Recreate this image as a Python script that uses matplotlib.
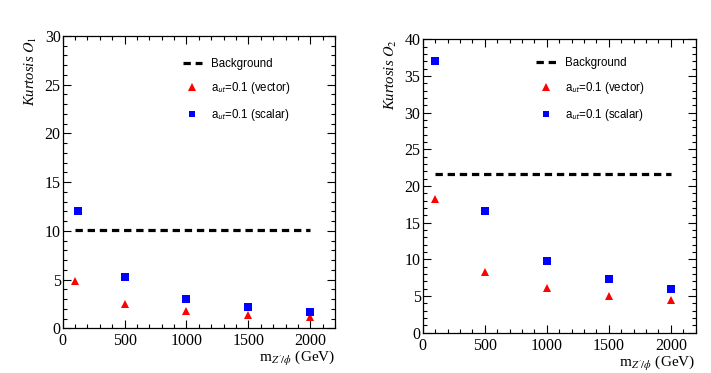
import matplotlib
matplotlib.use("Agg")
import matplotlib.pyplot as plt
from matplotlib.ticker import MultipleLocator
from matplotlib.lines import Line2D

plt.rcParams['mathtext.fontset'] = 'stix'
plt.rcParams['font.family'] = ['Liberation Serif', 'DejaVu Serif']

# Data
mass_vector = [100, 500, 1000, 1500, 2000]
mass_scalar_1 = [120, 500, 1000, 1500, 2000]
mass_scalar_2 = [100, 500, 1000, 1500, 2000]

o1_vector = [4.85, 2.46, 1.77, 1.33, 1.19]
o1_scalar = [12.0, 5.22, 2.97, 2.15, 1.71]
o1_background = 10.05

o2_vector = [18.27, 8.23, 6.05, 5.0, 4.41]
o2_scalar = [37.05, 16.64, 9.77, 7.32, 5.9]
o2_background = 21.68

bkg_range = [100, 2000]

xlabel = r"m$_{Z'/\phi}$ (GeV)"
ylabels = [r"Kurtosis $O_1$", r"Kurtosis $O_2$"]
leg_labels = ["Background", r"a$_{\mathsf{ut}}$=0.1 (vector)", r"a$_{\mathsf{ut}}$=0.1 (scalar)"]

fig = plt.figure(figsize=(7.11, 3.73), dpi=100)
ax1 = fig.add_axes([0.0882, 0.1198, 0.383, 0.7837])
ax2 = fig.add_axes([0.5945, 0.108, 0.384, 0.7866])

panels = [
    (ax1, mass_vector, o1_vector, mass_scalar_1, o1_scalar, o1_background, 30, ylabels[0], (0.419, 0.946)),
    (ax2, mass_vector, o2_vector, mass_scalar_2, o2_scalar, o2_background, 40, ylabels[1], (0.395, 0.960)),
]

for ax, xv, yv, xs, ys, bkg, ymax, ylab, anchor in panels:
    ax.plot(bkg_range, [bkg, bkg], color='black', lw=2.3, dashes=(2.3, 1.5))
    ax.plot(xv, yv, linestyle='none', marker='^', color='red', markersize=5.8, markeredgewidth=0)
    ax.plot(xs, ys, linestyle='none', marker='s', color='#0000ff', markersize=5.3, markeredgewidth=0)
    ax.set_xlim(0, 2200)
    ax.set_ylim(0, ymax)
    ax.xaxis.set_major_locator(MultipleLocator(500))
    ax.xaxis.set_minor_locator(MultipleLocator(100))
    ax.yaxis.set_major_locator(MultipleLocator(5))
    ax.yaxis.set_minor_locator(MultipleLocator(1))
    ax.tick_params(which='both', direction='in', top=True, right=True, labelsize=11.5, width=0.8)
    ax.tick_params(which='major', length=6)
    ax.tick_params(which='minor', length=3)
    ax.tick_params(axis='y', pad=1.5)
    ax.tick_params(axis='x', pad=3.5)
    for s in ax.spines.values():
        s.set_linewidth(0.9)
    ax.set_xlabel(xlabel, fontsize=11, loc='right', labelpad=0)
    ax.set_ylabel(ylab, fontsize=10.5, loc='top', style='italic', labelpad=4)

    handles = [
        Line2D([], [], color='black', lw=2.3, dashes=(2.3, 1.5)),
        Line2D([], [], linestyle='none', marker='^', color='red', markersize=5.3, markeredgewidth=0),
        Line2D([], [], linestyle='none', marker='s', color='#0000ff', markersize=5.0, markeredgewidth=0),
    ]
    ax.legend(handles, leg_labels, loc='upper left', bbox_to_anchor=anchor,
              frameon=False, prop={'family': 'Liberation Sans', 'size': 8.3},
              handlelength=1.7, handletextpad=0.8, labelspacing=0.95, borderpad=0)

fig.savefig("out.png", dpi=100)
